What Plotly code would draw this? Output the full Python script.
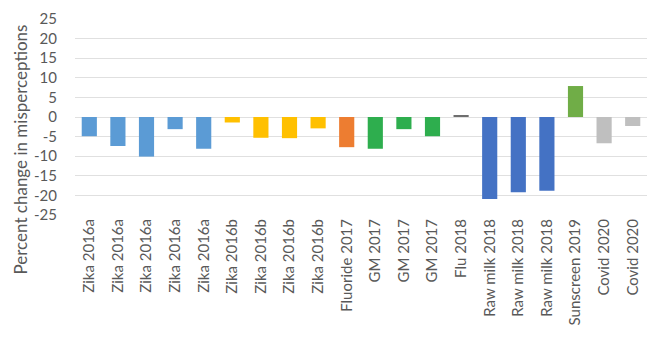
import plotly.graph_objects as go

categories = ["Zika 2016a"] * 5 + ["Zika 2016b"] * 4 + ["Fluoride 2017"] + ["GM 2017"] * 3 + \
             ["Flu 2018"] + ["Raw milk 2018"] * 3 + ["Sunscreen 2019"] + ["Covid 2020"] * 2
values = [-4.9, -7.4, -10.1, -3.1, -8.1,
          -1.4, -5.3, -5.4, -2.9,
          -7.7,
          -8.1, -3.1, -4.9,
          0.3,
          -20.9, -19.2, -18.8,
          7.9,
          -6.7, -2.3]
study_colors = {
    "Zika 2016a": "#5B9BD5",
    "Zika 2016b": "#FFC000",
    "Fluoride 2017": "#ED7D31",
    "GM 2017": "#2EAE4E",
    "Flu 2018": "#6E6E6E",
    "Raw milk 2018": "#4472C4",
    "Sunscreen 2019": "#70AD47",
    "Covid 2020": "#BFBFBF",
}
y_ticks = list(range(-25, 30, 5))
y_title = "Percent change in misperceptions"

positions = list(range(len(categories)))
colors = [study_colors[c] for c in categories]

fig = go.Figure(go.Bar(x=positions, y=values, marker_color=colors, marker_line_width=0))

font = "Lato, Carlito, Calibri, sans-serif"
fig.update_layout(
    width=656, height=337,
    margin=dict(l=75, r=9, t=19, b=122),
    plot_bgcolor="white", paper_bgcolor="white",
    bargap=0.47,
    showlegend=False,
    font=dict(family=font, color="#595959"),
)
fig.update_xaxes(
    tickmode="array", tickvals=positions, ticktext=categories,
    tickangle=-90, tickfont=dict(size=15, color="#595959"),
    range=[-0.5, len(categories) - 0.5],
    showgrid=False, zeroline=False, showline=False, ticks="",
)
fig.update_yaxes(
    range=[-25, 25], tickmode="array", tickvals=y_ticks,
    ticktext=[str(t) for t in y_ticks],
    tickfont=dict(size=15, color="#595959"),
    showgrid=True, gridcolor="#E0E0E0", gridwidth=1,
    zeroline=True, zerolinecolor="#E0E0E0", zerolinewidth=1,
    ticks="outside", ticklen=14, tickcolor="rgba(0,0,0,0)",
)
fig.add_annotation(
    text=y_title, textangle=-90,
    xref="paper", yref="paper",
    x=-75 / 572, xanchor="left", xshift=7,
    y=(337 - 122 - 150) / 196, yanchor="middle",
    showarrow=False, font=dict(size=17, color="#595959"),
)
fig.write_html("out.html")
